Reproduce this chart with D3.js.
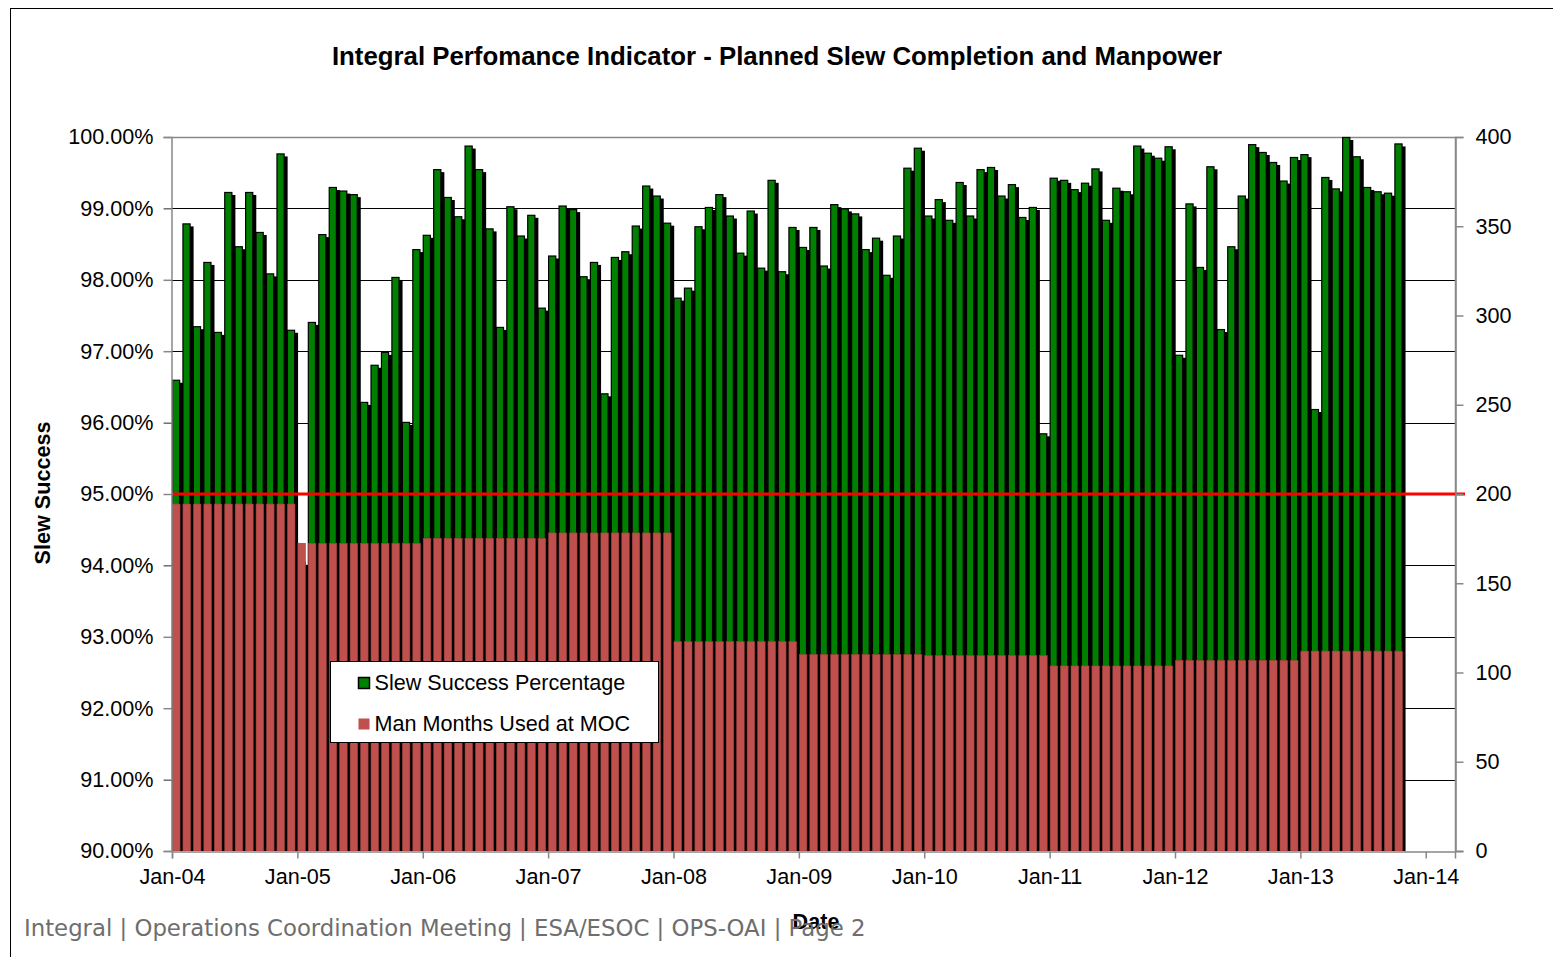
<!DOCTYPE html>
<html>
<head>
<meta charset="utf-8">
<script src="https://cdn.jsdelivr.net/npm/d3@7"></script>
<style>
  body { margin: 0; background: #fff; }
  svg { display: block; font-family: "Liberation Sans", Arial, sans-serif; }
</style>
</head>
<body>
<svg id="chart"></svg>
<script>
// Monthly slew success (%), Jan-04 .. Oct-13
const slewSuccess = [
    96.60, 98.79, 97.35, 98.25, 97.27, 99.23, 98.47, 99.23, 98.67, 98.09, 99.77, 97.30,
    94.05, 97.41, 98.64, 99.30, 99.25, 99.20, 96.29, 96.81, 96.99, 98.04, 96.01, 98.43,
    98.63, 99.55, 99.16, 98.89, 99.88, 99.55, 98.72, 97.34, 99.03, 98.62, 98.91, 97.61,
    98.34, 99.04, 98.99, 98.05, 98.25, 96.41, 98.32, 98.40, 98.76, 99.32, 99.18, 98.80,
    97.75, 97.89, 98.75, 99.02, 99.20, 98.90, 98.38, 98.97, 98.17, 99.40, 98.12, 98.74,
    98.46, 98.74, 98.20, 99.06, 99.00, 98.93, 98.43, 98.59, 98.07, 98.62, 99.57, 99.85,
    98.90, 99.13, 98.84, 99.37, 98.90, 99.55, 99.58, 99.18, 99.34, 98.88, 99.02, 95.85,
    99.43, 99.40, 99.27, 99.36, 99.56, 98.84, 99.29, 99.24, 99.88, 99.78, 99.71, 99.87,
    96.95, 99.07, 98.18, 99.59, 97.31, 98.47, 99.18, 99.90, 99.79, 99.65, 99.39, 99.72,
    99.76, 96.19, 99.44, 99.28, 100.00, 99.73, 99.30, 99.24, 99.22, 99.91
];

// Monthly man months used at MOC (right axis)
const manMonths = [
    194.4, 194.4, 194.4, 194.4, 194.4, 194.4, 194.4, 194.4, 194.4, 194.4, 194.4, 194.4,
    172.4, 172.4, 172.4, 172.4, 172.4, 172.4, 172.4, 172.4, 172.4, 172.4, 172.4, 172.4,
    175.2, 175.2, 175.2, 175.2, 175.2, 175.2, 175.2, 175.2, 175.2, 175.2, 175.2, 175.2,
    178.2, 178.2, 178.2, 178.2, 178.2, 178.2, 178.2, 178.2, 178.2, 178.2, 178.2, 178.2,
    117.3, 117.3, 117.3, 117.3, 117.3, 117.3, 117.3, 117.3, 117.3, 117.3, 117.3, 117.3,
    110.1, 110.1, 110.1, 110.1, 110.1, 110.1, 110.1, 110.1, 110.1, 110.1, 110.1, 110.1,
    109.5, 109.5, 109.5, 109.5, 109.5, 109.5, 109.5, 109.5, 109.5, 109.5, 109.5, 109.5,
    103.7, 103.7, 103.7, 103.7, 103.7, 103.7, 103.7, 103.7, 103.7, 103.7, 103.7, 103.7,
    106.8, 106.8, 106.8, 106.8, 106.8, 106.8, 106.8, 106.8, 106.8, 106.8, 106.8, 106.8,
    112.0, 112.0, 112.0, 112.0, 112.0, 112.0, 112.0, 112.0, 112.0, 112.0
];

const yearLabels = ["Jan-04", "Jan-05", "Jan-06", "Jan-07", "Jan-08", "Jan-09",
                    "Jan-10", "Jan-11", "Jan-12", "Jan-13", "Jan-14"];
const leftTicks = [90, 91, 92, 93, 94, 95, 96, 97, 98, 99, 100];
const rightTicks = [0, 50, 100, 150, 200, 250, 300, 350, 400];
const targetLevel = 95;

const titleText = "Integral Perfomance Indicator - Planned Slew Completion and Manpower";
const footerText = "Integral | Operations Coordination Meeting | ESA/ESOC | OPS-OAI | Page 2";
const legendItems = [
    {label: "Slew Success Percentage", color: "#008000", stroke: "#000"},
    {label: "Man Months Used at MOC", color: "#C0504D", stroke: "none"}
];

const config = {
    width: 1553, height: 957,
    left: 172, right: 1455, top: 137, bottom: 851,
    fontSize: 21.6
};

const svg = d3.select('#chart')
    .attr('width', config.width)
    .attr('height', config.height);

// outer frame
svg.append('rect')
    .attr('x', 10.5).attr('y', 8.5)
    .attr('width', config.width + 20).attr('height', config.height + 20)
    .attr('fill', 'none').attr('stroke', '#000').attr('stroke-width', 1);

// month index scale (Excel date axis, base unit months)
const xScale = d3.scaleLinear()
    .domain([0, 122.8])
    .range([config.left, config.right]);
const yLeft = d3.scaleLinear()
    .domain([90, 100])
    .range([config.bottom, config.top]);
const yRight = d3.scaleLinear()
    .domain([0, 400])
    .range([config.bottom, config.top]);

const monthW = xScale(1) - xScale(0);
const barW = monthW * 0.78;

svg.append('defs').append('clipPath').attr('id', 'plotClip')
    .append('rect')
    .attr('x', config.left - 1).attr('y', config.top - 10)
    .attr('width', config.right - config.left + 1)
    .attr('height', config.bottom - config.top + 10);

// gridlines
svg.append('g')
    .selectAll('line')
    .data(leftTicks.slice(1, -1))
    .join('line')
    .attr('x1', config.left - 8).attr('x2', config.right)
    .attr('y1', d => Math.round(yLeft(d)) + 0.5)
    .attr('y2', d => Math.round(yLeft(d)) + 0.5)
    .attr('stroke', '#000').attr('stroke-width', 1);

// plot area frame (top and right)
svg.append('path')
    .attr('d', `M${config.left},${config.top + 0.5}H${config.right + 0.5}V${config.bottom}`)
    .attr('fill', 'none').attr('stroke', '#888').attr('stroke-width', 1.5);

const bars = svg.append('g').attr('clip-path', 'url(#plotClip)');

// green bar shadows
bars.selectAll('.shadow')
    .data(slewSuccess)
    .join('rect')
    .attr('class', 'shadow')
    .attr('x', (d, i) => xScale(i) + 3)
    .attr('y', d => yLeft(d) + 3)
    .attr('width', barW)
    .attr('height', d => config.bottom - yLeft(d))
    .attr('fill', '#000');

// green bars
bars.selectAll('.slew')
    .data(slewSuccess)
    .join('rect')
    .attr('class', 'slew')
    .attr('x', (d, i) => xScale(i) + 0.5)
    .attr('y', d => yLeft(d) + 0.5)
    .attr('width', barW - 1)
    .attr('height', d => config.bottom - yLeft(d))
    .attr('fill', '#008000')
    .attr('stroke', '#000').attr('stroke-width', 1.2);

// red man-months bars
bars.selectAll('.manpower')
    .data(manMonths)
    .join('rect')
    .attr('class', 'manpower')
    .attr('x', (d, i) => xScale(i) + 0.5)
    .attr('y', d => yRight(d))
    .attr('width', barW - 0.6)
    .attr('height', d => config.bottom - yRight(d))
    .attr('fill', '#C0504D')
    .attr('stroke', '#9a3e3b').attr('stroke-width', 0.6);

// 95% target line
svg.append('line')
    .attr('x1', xScale(0)).attr('x2', config.right + 10)
    .attr('y1', yLeft(targetLevel)).attr('y2', yLeft(targetLevel))
    .attr('stroke', '#FF0000').attr('stroke-width', 3);

// axes
const leftAxis = d3.axisLeft(yLeft)
    .tickValues(leftTicks)
    .tickSize(8)
    .tickPadding(10)
    .tickFormat(d => d3.format('.2f')(d) + '%');
const rightAxis = d3.axisRight(yRight)
    .tickValues(rightTicks)
    .tickSize(8)
    .tickPadding(12);
const bottomAxis = d3.axisBottom(xScale)
    .tickValues(yearLabels.map((d, i) => i * 12))
    .tickSize(7)
    .tickPadding(10)
    .tickFormat((d, i) => yearLabels[i]);

function styleAxis(g) {
    g.select('.domain').attr('stroke', '#888').attr('stroke-width', 1.5);
    g.selectAll('.tick line').attr('stroke', '#888').attr('stroke-width', 1.5);
    g.selectAll('.tick text')
        .attr('fill', '#000')
        .style('font-size', config.fontSize + 'px')
        .style('font-family', '"Liberation Sans", Arial, sans-serif');
}

svg.append('g')
    .attr('transform', `translate(${config.left - 0.5},0)`)
    .call(leftAxis).call(styleAxis);
svg.append('g')
    .attr('transform', `translate(${config.right + 0.5},0)`)
    .call(rightAxis).call(styleAxis);
svg.append('g')
    .attr('transform', `translate(0,${config.bottom + 0.5})`)
    .call(bottomAxis).call(styleAxis);

// extend bottom axis line to right ticks
svg.append('line')
    .attr('x1', config.right).attr('x2', config.right + 8)
    .attr('y1', config.bottom + 0.5).attr('y2', config.bottom + 0.5)
    .attr('stroke', '#888').attr('stroke-width', 1.5);

// title
svg.append('text')
    .attr('x', 777).attr('y', 65)
    .attr('text-anchor', 'middle')
    .style('font-weight', 'bold')
    .style('font-size', '25.8px')
    .text(titleText);

// y axis title
svg.append('text')
    .attr('transform', 'translate(50,493) rotate(-90)')
    .attr('text-anchor', 'middle')
    .style('font-weight', 'bold')
    .style('font-size', config.fontSize + 'px')
    .text('Slew Success');

// x axis title
svg.append('text')
    .attr('x', 816).attr('y', 929)
    .attr('text-anchor', 'middle')
    .style('font-weight', 'bold')
    .style('font-size', config.fontSize + 'px')
    .text('Date');

// footer
svg.append('text')
    .attr('x', 24).attr('y', 936)
    .attr('fill', '#6e6e6e')
    .style('font-family', '"DejaVu Sans", Verdana, sans-serif')
    .style('font-size', '22.8px')
    .text(footerText);

// legend
const legend = svg.append('g').attr('transform', 'translate(330.5,661.5)');
legend.append('rect')
    .attr('width', 328).attr('height', 81)
    .attr('fill', '#fff').attr('stroke', '#000').attr('stroke-width', 1);
legendItems.forEach((item, i) => {
    legend.append('rect')
        .attr('x', 28).attr('y', 16 + i * 41)
        .attr('width', 11).attr('height', 11)
        .attr('fill', item.color)
        .attr('stroke', item.stroke).attr('stroke-width', 1.5);
    legend.append('text')
        .attr('x', 44).attr('y', 28 + i * 41)
        .style('font-size', config.fontSize + 'px')
        .text(item.label);
});
</script>
</body>
</html>
